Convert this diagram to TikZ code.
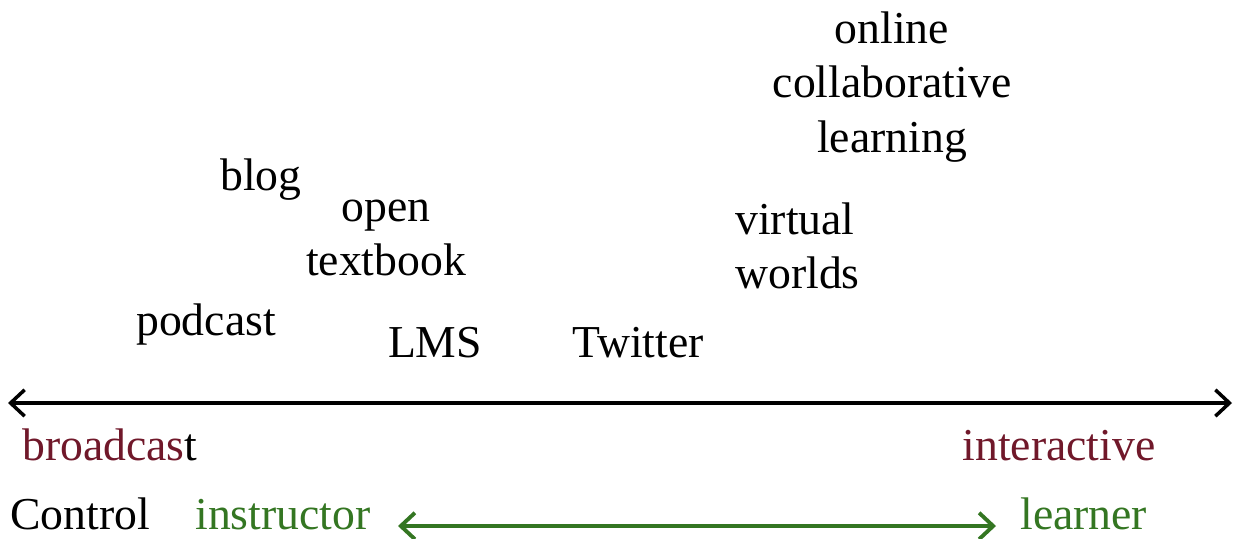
\documentclass[tikz,border=0pt]{standalone}
\usepackage{fontspec}
\setmainfont{Liberation Serif}
\usepackage{xcolor}
\usetikzlibrary{arrows.meta, positioning}

\definecolor{wine}{RGB}{112,24,42}
\definecolor{leaf}{RGB}{52,118,34}

\begin{document}
\begin{tikzpicture}[
        x=0.02cm, y=-0.02cm,
        word/.style={
            inner sep=0pt,
            align=center,
            text height=0.7em,
            text depth=0.2em,
            font=\fontsize{26}{31}\selectfont
        },
        block/.style={
            inner sep=0pt,
            font=\fontsize{26}{31}\selectfont
        },
        axis/.style={
            {Straight Barb[length=8pt, width=15pt, line width=2pt]}-{Straight Barb[length=8pt, width=15pt, line width=2pt]},
            line width=2pt
        },
        ctrl/.style={
            {Straight Barb[length=8pt, width=15pt, line width=2.2pt]}-{Straight Barb[length=8pt, width=15pt, line width=2.2pt]},
            line width=2.4pt,
            leaf
        }
    ]
    \useasboundingbox (0,0) rectangle (1234,538);

    % tools
    \node[block, align=center] (collab) at (892,87) {online\\collaborative\\learning};
    \node[word] (blog) at (261,186) {blog};
    \node[block, align=center] (textbook) at (386,238) {open\\textbook};
    \node[block, align=left, anchor=west] (worlds) at (735,246) {virtual\\worlds};
    \node[word] (podcast) at (206,331) {podcast};
    \node[word] (lms) at (435,353) {LMS};
    \node[word] (twitter) at (638,353) {Twitter};

    % axis
    \coordinate (left) at (8,403);
    \coordinate (right) at (1232,403);
    \draw[axis] (left) -- (right);

    \node[word, anchor=west] (broadcast) at (22,456) {{\color{wine}broadcas}t};
    \node[word, text=wine] (interactive) at (1059,456) {interactive};

    % control
    \node[word, anchor=west] (control) at (10,525) {Control};
    \node[word, anchor=west, text=leaf] (instructor) at (195,525) {instructor};
    \node[word, anchor=west, text=leaf] (learner) at (1020,525) {learner};
    \coordinate (from) at (398,526);
    \coordinate (to) at (996,526);
    \draw[ctrl] (from) -- (to);

\end{tikzpicture}
\end{document}
